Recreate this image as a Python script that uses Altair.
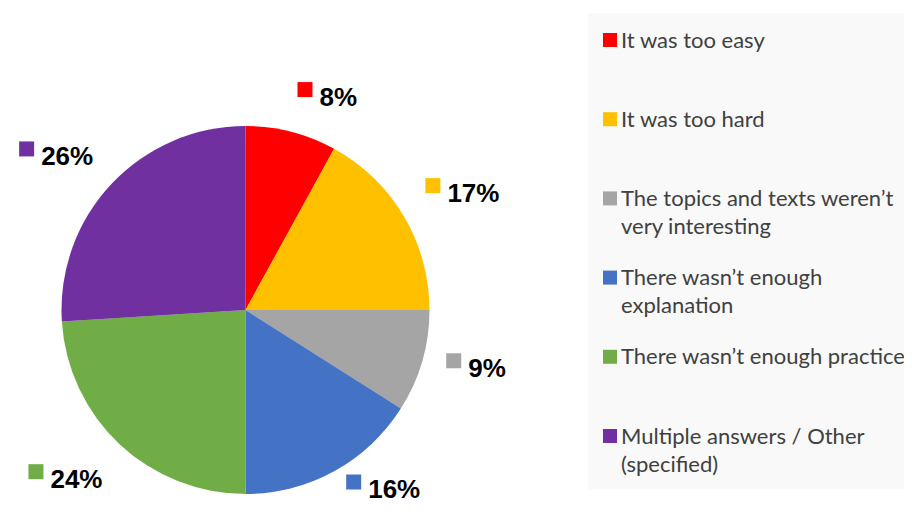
import altair as alt
import pandas as pd

categories = [
    "It was too easy",
    "It was too hard",
    "The topics and texts weren’t very interesting",
    "There wasn’t enough explanation",
    "There wasn’t enough practice",
    "Multiple answers / Other (specified)",
]
legend_text = [
    "It was too easy",
    "It was too hard",
    "The topics and texts weren’t\nvery interesting",
    "There wasn’t enough\nexplanation",
    "There wasn’t enough practice",
    "Multiple answers / Other\n(specified)",
]
values = [8, 17, 9, 16, 24, 26]
pct_labels = ["8%", "17%", "9%", "16%", "24%", "26%"]
colors = ["#FF0000", "#FFC000", "#A5A5A5", "#4472C4", "#70AD47", "#7030A0"]

df = pd.DataFrame({
    "idx": list(range(len(categories))),
    "category": categories,
    "legend": legend_text,
    "value": values,
    "label": pct_labels,
})

CX, CY, R = 237.5, 302, 184
L = R + 25          # label anchor distance
HH = 15             # half label-box height
YMAX = 477          # keep labels inside the chart
color_scale = alt.Scale(domain=categories, range=colors)

base = alt.Chart(df)

# soft shadow
shadow_df = pd.DataFrame({"r": [192, 189, 186]})
shadow = alt.Chart(shadow_df).mark_circle(color="#000000", opacity=0.035).encode(
    x=alt.value(CX + 1), y=alt.value(CY + 2),
    size=alt.Size("s:Q", scale=None, legend=None),
).transform_calculate(s="PI*datum.r*datum.r")

pie = base.mark_arc(radius=R).encode(
    theta=alt.Theta("value:Q", stack=True),
    color=alt.Color("category:N", scale=color_scale, legend=None),
    order=alt.Order("idx:Q"),
    x=alt.value(CX), y=alt.value(CY),
)

lab = base.transform_window(
    cum="sum(value)", sort=[alt.SortField("idx")], frame=[None, 0]
).transform_joinaggregate(total="sum(value)").transform_calculate(
    a="(datum.cum - datum.value/2)/datum.total*2*PI",
    tw="14.5*(length(datum.label)-1)+23",
).transform_calculate(
    hw="(22+datum.tw)/2",
    px=f"{CX}+{L}*sin(datum.a)",
    py=f"{CY}-{L}*cos(datum.a)",
).transform_calculate(
    gx="datum.px + datum.hw*(sin(datum.a)>=0?1:-1)",
    gy=f"min(datum.py - {HH}*clamp(cos(datum.a)*2.5+1,-1,1), {YMAX})",
).transform_calculate(
    sqx="datum.gx-datum.hw+7.5", sqy="datum.gy-3",
    tx="datum.gx-datum.hw+22", ty="datum.gy+5",
)

lab_sq = lab.mark_square(size=225, opacity=1).encode(
    x=alt.X("sqx:Q", scale=None, axis=None),
    y=alt.Y("sqy:Q", scale=None, axis=None),
    color=alt.Color("category:N", scale=color_scale, legend=None),
)
lab_txt = lab.mark_text(
    font="Liberation Sans", fontWeight="bold", fontSize=26, align="left",
    baseline="middle", color="#000000",
).encode(
    x=alt.X("tx:Q", scale=None, axis=None),
    y=alt.Y("ty:Q", scale=None, axis=None),
    text="label:N",
)

# legend panel
bg = alt.Chart(pd.DataFrame({"a": [0]})).mark_rect(color="#F9F9F9").encode(
    x=alt.value(580), x2=alt.value(904), y=alt.value(5), y2=alt.value(481),
)
leg = base.transform_calculate(ly="32+datum.idx*79.2")
leg_sq = leg.mark_square(size=196, opacity=1).encode(
    x=alt.value(602),
    y=alt.Y("ly:Q", scale=None, axis=None),
    color=alt.Color("category:N", scale=color_scale, legend=None),
)
leg_txt = leg.transform_calculate(lty="datum.ly+7.5").mark_text(
    font="Lato", fontSize=22, align="left", baseline="alphabetic",
    color="#404040", lineBreak="\n", lineHeight=28,
).encode(
    x=alt.value(613),
    y=alt.Y("lty:Q", scale=None, axis=None),
    text="legend:N",
)

chart = alt.layer(shadow, pie, lab_sq, lab_txt, bg, leg_sq, leg_txt).properties(
    width=896, height=498, autosize=alt.AutoSizeParams(type="none"), padding=0,
    background="#FFFFFF",
).configure_view(stroke=None)

chart.save("out.html", embed_options={"renderer": "svg", "actions": False})
